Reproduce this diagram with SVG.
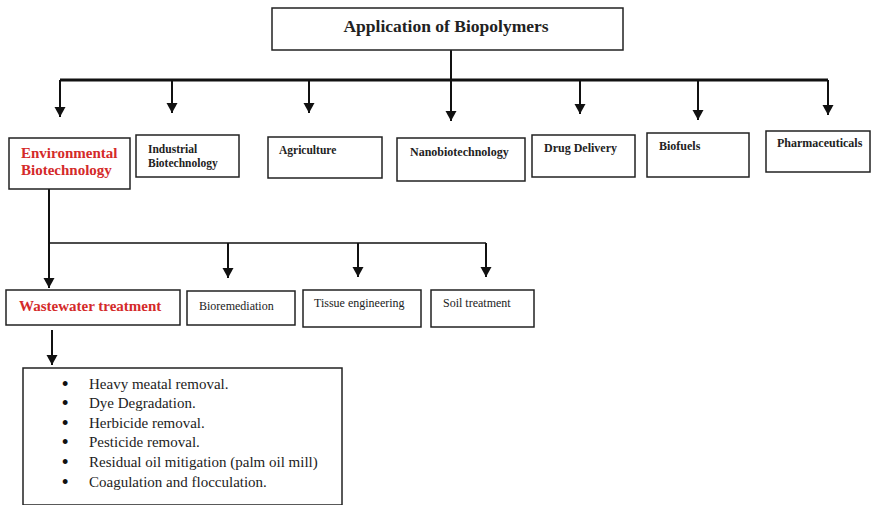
<svg xmlns="http://www.w3.org/2000/svg" width="871" height="505" viewBox="0 0 871 505">
<style>
.box{fill:#fff;stroke:#222;stroke-width:1.5}
.c{fill:none;stroke:#111;stroke-width:2}
.t{font-family:"Liberation Serif","Times New Roman",serif;fill:#222}
.b{font-weight:bold}
.red{fill:#d42a2a;font-weight:bold}
.bul{font-family:"Liberation Sans",Arial,sans-serif;font-size:18px;fill:#111}
</style>
<defs>
<marker id="ah" markerUnits="userSpaceOnUse" markerWidth="12" markerHeight="12" refX="10" refY="5.5" orient="auto">
<path d="M0,0 L10,5.5 L0,11 z" fill="#111"/>
</marker>
</defs>
<rect width="871" height="505" fill="#fff"/>
<g id="connectors">
<path class="c" d="M451,50 V121" marker-end="url(#ah)"/>
<path class="c" style="stroke-width:3" d="M60,80 H828"/>
<path class="c" d="M60,80 V117" marker-end="url(#ah)"/>
<path class="c" d="M172,80 V113" marker-end="url(#ah)"/>
<path class="c" d="M309,80 V113" marker-end="url(#ah)"/>
<path class="c" d="M580,80 V114" marker-end="url(#ah)"/>
<path class="c" d="M698,80 V120" marker-end="url(#ah)"/>
<path class="c" d="M828,80 V115" marker-end="url(#ah)"/>
<path class="c" d="M49,189 V288" marker-end="url(#ah)"/>
<path class="c" style="stroke-width:1.5" d="M49,243 H486"/>
<path class="c" d="M228,243 V278" marker-end="url(#ah)"/>
<path class="c" d="M358,243 V277" marker-end="url(#ah)"/>
<path class="c" d="M486,243 V277" marker-end="url(#ah)"/>
<path class="c" d="M52,330 V365" marker-end="url(#ah)"/>
</g>
<g id="root">
<rect class="box" x="272" y="8" width="351" height="42"/>
<text class="t b" x="446" y="32" font-size="17.5" text-anchor="middle">Application of Biopolymers</text>
</g>
<g id="env">
<rect class="box" x="9" y="138" width="121" height="51"/>
<text class="t red" x="21" y="158" font-size="15">Environmental</text>
<text class="t red" x="21" y="175" font-size="15">Biotechnology</text>
</g>
<g id="industrial">
<rect class="box" x="136" y="135" width="103" height="42"/>
<text class="t b" x="148" y="153" font-size="11.5">Industrial</text>
<text class="t b" x="148" y="167" font-size="11.5">Biotechnology</text>
</g>
<g id="agriculture">
<rect class="box" x="268" y="137" width="114" height="41"/>
<text class="t b" x="279" y="154" font-size="11.5">Agriculture</text>
</g>
<g id="nano">
<rect class="box" x="397" y="138" width="128" height="43"/>
<text class="t b" x="410" y="156" font-size="12">Nanobiotechnology</text>
</g>
<g id="drug">
<rect class="box" x="532" y="135" width="103" height="42"/>
<text class="t b" x="544" y="152" font-size="12">Drug Delivery</text>
</g>
<g id="biofuels">
<rect class="box" x="647" y="133" width="102" height="44"/>
<text class="t b" x="659" y="150" font-size="12">Biofuels</text>
</g>
<g id="pharma">
<rect class="box" x="766" y="131" width="104" height="41"/>
<text class="t b" x="777" y="147" font-size="12">Pharmaceuticals</text>
</g>
<g id="wastewater">
<rect class="box" x="6" y="290" width="174" height="35"/>
<text class="t red" x="19" y="311" font-size="15">Wastewater treatment</text>
</g>
<g id="bioremediation">
<rect class="box" x="187" y="291" width="108" height="34"/>
<text class="t" x="199" y="310" font-size="12">Bioremediation</text>
</g>
<g id="tissue">
<rect class="box" x="303" y="290" width="118" height="37"/>
<text class="t" x="314" y="307" font-size="12">Tissue engineering</text>
</g>
<g id="soil">
<rect class="box" x="431" y="290" width="103" height="37"/>
<text class="t" x="443" y="307" font-size="12">Soil treatment</text>
</g>
<g id="list">
<rect class="box" x="23" y="368" width="319" height="137"/>
<g class="bul">
<text x="62" y="390">•</text>
<text x="62" y="409">•</text>
<text x="62" y="429">•</text>
<text x="62" y="448">•</text>
<text x="62" y="468">•</text>
<text x="62" y="488">•</text>
</g>
<g class="t" font-size="15">
<text x="89" y="389">Heavy meatal removal.</text>
<text x="89" y="408">Dye Degradation.</text>
<text x="89" y="428">Herbicide removal.</text>
<text x="89" y="447">Pesticide removal.</text>
<text x="89" y="467">Residual oil mitigation (palm oil mill)</text>
<text x="89" y="487">Coagulation and flocculation.</text>
</g>
</g>
</svg>
